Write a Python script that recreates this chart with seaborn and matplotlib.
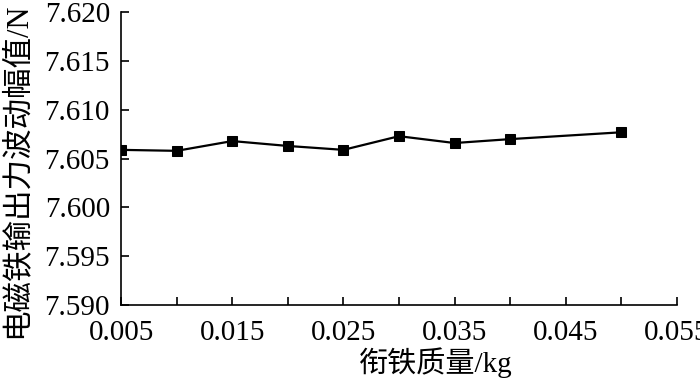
import numpy as np
import pandas as pd
import seaborn as sns
import matplotlib.pyplot as plt
from matplotlib.ticker import MultipleLocator

# dados
massa = [0.005, 0.010, 0.015, 0.020, 0.025, 0.030, 0.035, 0.040, 0.050]
amplitude = [7.6059, 7.6058, 7.6068, 7.6063, 7.6059, 7.6073, 7.6066, 7.6070, 7.6077]
xticks = [0.005, 0.015, 0.025, 0.035, 0.045, 0.055]
yticks = [7.590, 7.595, 7.600, 7.605, 7.610, 7.615, 7.620]

sns.set_theme(style="ticks")
plt.rcParams['font.family'] = ['Liberation Serif', 'Noto Sans CJK SC']

df = pd.DataFrame({"massa": massa, "amplitude": amplitude})

fig = plt.figure(figsize=(7, 3.8), dpi=100)
ax = fig.add_axes([0.173, 0.197, 0.794, 0.771])
sns.lineplot(data=df, x="massa", y="amplitude", ax=ax, color="black",
             marker="s", markersize=7, linewidth=1.6, markeredgecolor="black")

ax.set_xlim(0.005, 0.055)
ax.set_ylim(7.590, 7.620)
ax.set_xticks(xticks)
ax.set_xticklabels([f"{v:.3f}" for v in xticks])
ax.set_yticks(yticks)
ax.set_yticklabels([f"{v:.3f}" for v in yticks])
ax.xaxis.set_minor_locator(MultipleLocator(0.005))
ax.tick_params(which="both", direction="in", colors="black", labelsize=21, width=1.2, length=6)
ax.tick_params(axis="x", which="both", pad=11)
ax.tick_params(axis="y", which="both", pad=8)
sns.despine(ax=ax)
for s in ["left", "bottom"]:
    ax.spines[s].set_color("black")
    ax.spines[s].set_linewidth(1.2)

ax.set_xlabel("衔铁质量/kg", fontsize=21, color="black")
ax.set_ylabel("电磁铁输出力波动幅值/N", fontsize=22, color="black")
ax.xaxis.set_label_coords(0.567, -0.195)
ax.yaxis.set_label_coords(-0.188, 0.46)
ax.xaxis.label.set_va("center")
ax.yaxis.label.set_va("center")

fig.savefig("out.png", dpi=100)
